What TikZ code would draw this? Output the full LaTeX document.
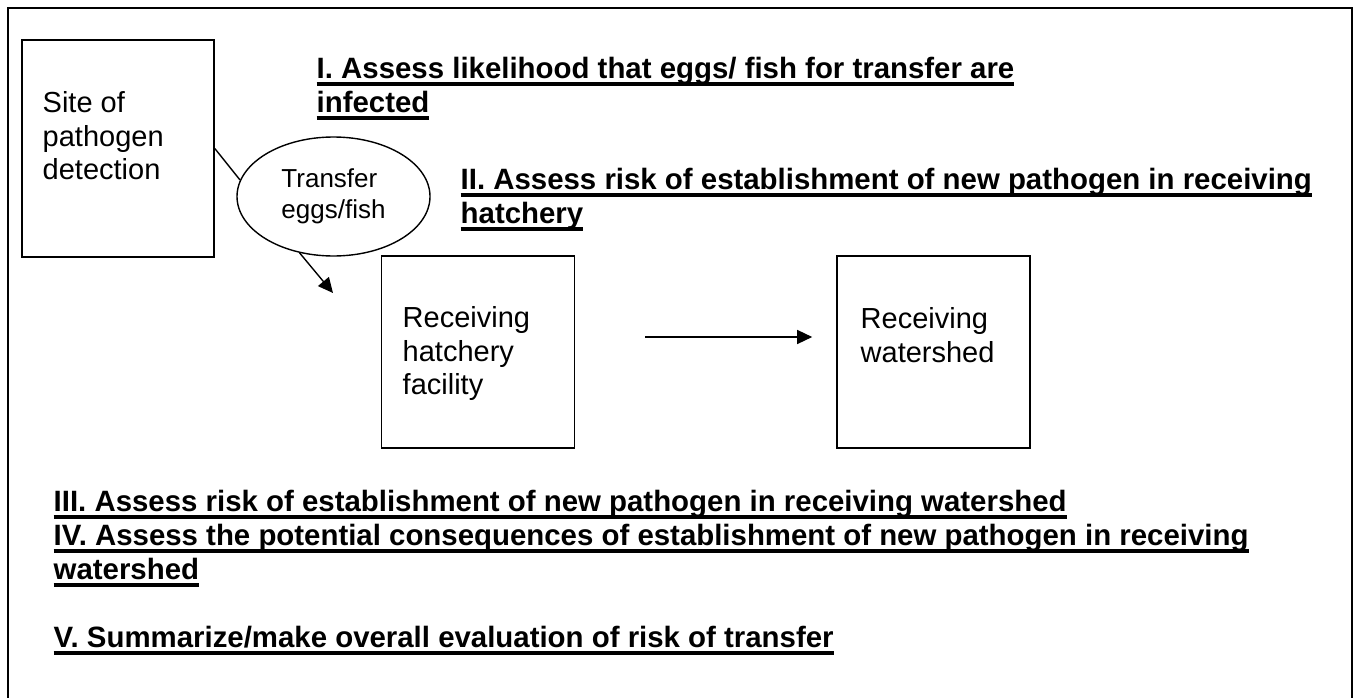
\documentclass[tikz,border=0pt]{standalone}
\usepackage{fontspec}
\setmainfont{Liberation Sans}
\usetikzlibrary{positioning,shapes.geometric,arrows.meta}

% thick underline as in the word-processor original
\newcommand{\ulbold}[1]{\setbox0=\hbox{#1}\rlap{\rule[-7.5pt]{\wd0}{4pt}}\box0}

\tikzset{
  stage/.style={rectangle,draw,line width=1.6pt,inner sep=0pt,minimum width=193pt},
  stagetext/.style={anchor=north west,align=left,inner sep=0pt,font=\fontsize{29}{33.5}\selectfont},
  heading/.style={anchor=north west,align=left,inner sep=0pt,font=\fontsize{29.4}{34}\selectfont\bfseries},
}

\begin{document}
\begin{tikzpicture}[x=1pt,y=-1pt,>={Triangle[length=15pt,width=14pt]},line width=1.4pt]
  \useasboundingbox (0,0) rectangle (1359,698);
  \draw[line width=1.8pt] (8,720) -- (8,8) -- (1352,8) -- (1352,720);

  % the three places
  \node[stage,minimum width=192pt,minimum height=217pt] (site) at (118,148.5) {};
  \node[stage,minimum height=192pt] (hatch) at (478,352) {};
  \node[stage,minimum height=192pt] (shed)  at (933.5,352) {};
  \node[stagetext] (sitetxt)  at (42,91)   {Site of\\pathogen\\detection};
  \node[stagetext] (hatchtxt) at (402,306) {Receiving\\hatchery\\facility};
  \node[stagetext] (shedtxt)  at (860,307) {Receiving\\watershed};

  \node[ellipse,draw,minimum width=193pt,minimum height=119pt,inner sep=0pt,
        align=left,font=\fontsize{26}{31}\selectfont] (transfer) at (333.5,196.5) {Transfer\\eggs/fish};

  % connectors
  \coordinate (drop) at (333,293);
  \draw (site.east) -- (transfer.170);
  \draw[->] (transfer.239) -- (drop);
  \draw[->,shorten <=70pt,shorten >=24pt] ([yshift=15pt]hatch.east) -- ([yshift=15pt]shed.west);

  % assessment steps
  \node[heading] (stepone) at (316,56)
    {\ulbold{I. Assess likelihood that eggs/ fish for transfer are}\\\ulbold{infected}};
  \node[heading] (steptwo) at (460,167)
    {\ulbold{II. Assess risk of establishment of new pathogen in receiving}\\\ulbold{hatchery}};
  \node[heading] (stepthree) at (53,489)
    {\ulbold{III. Assess risk of establishment of new pathogen in receiving watershed}};
  \node[heading] (stepfour) at (53,523)
    {\ulbold{IV. Assess the potential consequences of establishment of new pathogen in receiving}\\\ulbold{watershed}};
  \node[heading] (stepfive) at (53,625)
    {\ulbold{V. Summarize/make overall evaluation of risk of transfer}};
\end{tikzpicture}
\end{document}
